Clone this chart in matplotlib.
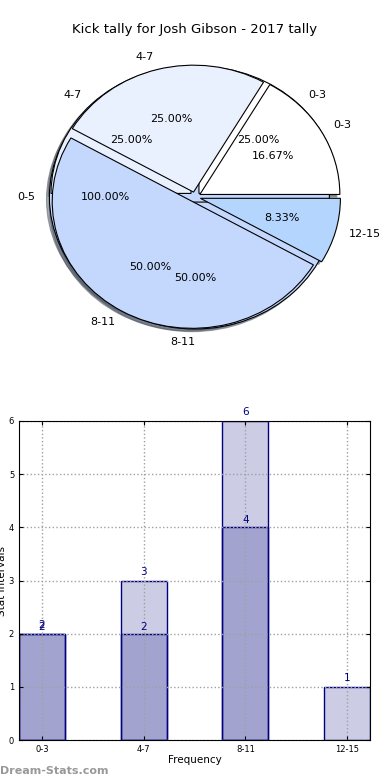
import numpy as np
import matplotlib
matplotlib.use("Agg")
import matplotlib.pyplot as plt

# données
cats_a = ['0-3', '4-7', '8-11', '12-15']
vals_a = [2, 3, 6, 1]
cats_b = ['0-3', '4-7', '8-11']
vals_b = [2, 2, 4]
cats_c = ['0-5']
vals_c = [1]

pie_colors = ['#ffffff', '#eaf1fe', '#c4d8fe', '#b4d6fe']
title = "Kick tally for Josh Gibson - 2017 tally"

fig = plt.figure(figsize=(3.9, 7.8), dpi=100)

# camembert (trois tartes superposées)
ax1 = fig.add_axes([13/390, 418/780, 364/390, 330/780])
wp = dict(edgecolor='black', linewidth=0.8)
tp = dict(fontsize=8)
sh = dict(ox=-0.015, oy=-0.015, shade=0.6)
ax1.pie(vals_c, labels=cats_c, colors=['#c4d8fe'], autopct='%.2f%%',
        explode=[0.04], shadow=sh, wedgeprops=wp, textprops=tp)
wb, tb, pb = ax1.pie(vals_b, labels=cats_b, colors=pie_colors[:3], autopct='%.2f%%',
                     explode=[0.04]*len(vals_b), shadow=sh, wedgeprops=wp, textprops=tp)
# le label du bas est aligné à droite sur l'original
tb[2].set_ha('right')
ax1.pie(vals_a, labels=cats_a, colors=pie_colors, autopct='%.2f%%',
        explode=[0.04]*len(vals_a), shadow=sh, wedgeprops=wp, textprops=tp)
ax1.set_aspect('auto')
ax1.set_xlim(-1.3, 1.3)
ax1.set_ylim(-1.3, 1.3)
fig.text(0.5, 1 - 30/780, title, ha='center', va='center', fontsize=9.5)

# histogramme
ax2 = fig.add_axes([19/390, 40/780, 351/390, 319/780])
x = np.arange(len(cats_a))
w = 0.45
ax2.bar(x, vals_a, width=w, color='navy', alpha=0.2)
ax2.bar(x, vals_a, width=w, facecolor='none', edgecolor='navy', linewidth=1)
xb = np.arange(len(cats_b))
ax2.bar(xb, vals_b, width=w, color='navy', alpha=0.2)
ax2.bar(xb, vals_b, width=w, facecolor='none', edgecolor='navy', linewidth=1)
for i, v in enumerate(vals_a):
    ax2.text(x[i], v + 0.07, str(v), ha='center', va='bottom', color='navy', fontsize=7.5)
for i, v in enumerate(vals_b):
    ax2.text(xb[i], v + 0.04, str(v), ha='center', va='bottom', color='navy', fontsize=7.5)

ax2.set_xlim(-w/2, len(cats_a) - 1 + w/2)
ax2.set_ylim(0, 6)
ax2.set_xticks(x)
ax2.set_xticklabels(cats_a)
ax2.set_yticks(range(0, 7))
ax2.tick_params(labelsize=6, direction='in', top=True, right=True, length=3)
ax2.grid(True, linestyle=':', color='#a0a0a0', linewidth=1)
ax2.set_axisbelow(False)
ax2.set_xlabel('Frequency', fontsize=7.5, labelpad=1)
ax2.set_ylabel('Stat Intervals', fontsize=7.5, labelpad=1)
for s in ax2.spines.values():
    s.set_color('black')
    s.set_zorder(5)

fig.text(0.0, 1 - 771/780, 'Dream-Stats.com', ha='left', va='center',
         fontsize=8, color='#999999', fontweight='bold')

fig.savefig('out.png', dpi=100)
